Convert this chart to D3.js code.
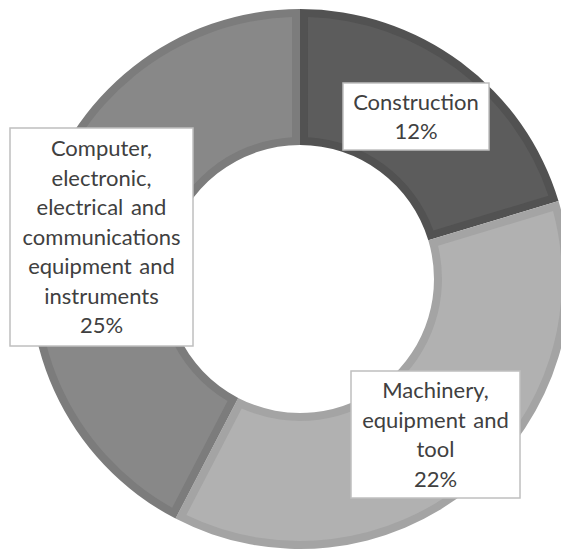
<!DOCTYPE html>
<html>
<head>
<meta charset="utf-8">
<script src="https://cdn.jsdelivr.net/npm/d3@7"></script>
<style>
  html, body { margin: 0; padding: 0; background: #fff; }
  svg { display: block; }
</style>
</head>
<body>
<svg id="chart" width="561" height="550"></svg>
<script>
// Industry shares shown in the donut
const categories = [
  "Construction",
  "Machinery, equipment and tool",
  "Computer, electronic, electrical and communications equipment and instruments"
];
const shares = [12, 22, 25];

// Wrapped lines for each data label (the value line is appended)
const labelLines = [
  ["Construction"],
  ["Machinery,", "equipment and", "tool"],
  ["Computer,", "electronic,", "electrical and", "communications", "equipment and", "instruments"]
];

// Slice fill and the slightly darker rim drawn around each slice
const fillColors = ["#5c5c5c", "#b1b1b1", "#888888"];
const rimColors  = ["#525252", "#a4a4a4", "#7c7c7c"];

// Label box placement: left, top, width, height
const labelBoxes = [
  [343, 83, 146, 67],
  [351, 371, 169, 127],
  [10, 128, 183, 218]
];

const cx = 300, cy = 279;
const outerR = 270, innerR = 134, rim = 8, padR = 200;
const lineGap = 29.5;

const svg = d3.select("#chart");
const g = svg.append("g").attr("transform", `translate(${cx},${cy})`);

const arcs = d3.pie().sort(null).value(d => d)(shares);

const rimArc = d3.arc().innerRadius(innerR).outerRadius(outerR);
const fillArc = d3.arc()
  .innerRadius(innerR + rim)
  .outerRadius(outerR - rim)
  .padRadius(padR)
  .padAngle(2 * rim / padR);

const slices = g.selectAll("g.slice").data(arcs).join("g").attr("class", "slice");
slices.append("path")
  .attr("d", rimArc)
  .attr("fill", (d, i) => rimColors[i]);
slices.append("path")
  .attr("d", fillArc)
  .attr("fill", (d, i) => fillColors[i]);

// Data labels in white boxes
const labels = svg.selectAll("g.label").data(arcs).join("g").attr("class", "label");
labels.append("rect")
  .attr("x", (d, i) => labelBoxes[i][0])
  .attr("y", (d, i) => labelBoxes[i][1])
  .attr("width", (d, i) => labelBoxes[i][2])
  .attr("height", (d, i) => labelBoxes[i][3])
  .attr("fill", "#ffffff")
  .attr("stroke", "#bfbfbf")
  .attr("stroke-width", 1.5);

labels.each(function(d, i) {
  const [x, y, w, h] = labelBoxes[i];
  const lines = labelLines[i].concat([`${d.data}%`]);
  const midX = x + w / 2;
  const firstY = y + h / 2 - (lines.length - 1) * lineGap / 2;
  const t = d3.select(this).append("text")
    .attr("text-anchor", "middle")
    .attr("font-family", "Lato, 'Open Sans', sans-serif")
    .attr("font-size", 22)
    .attr("word-spacing", 2)
    .attr("fill", "#404040");
  lines.forEach((ln, k) => {
    t.append("tspan")
      .attr("x", midX)
      .attr("y", firstY + k * lineGap)
      .attr("dy", "0.36em")
      .text(ln);
  });
});
</script>
</body>
</html>
